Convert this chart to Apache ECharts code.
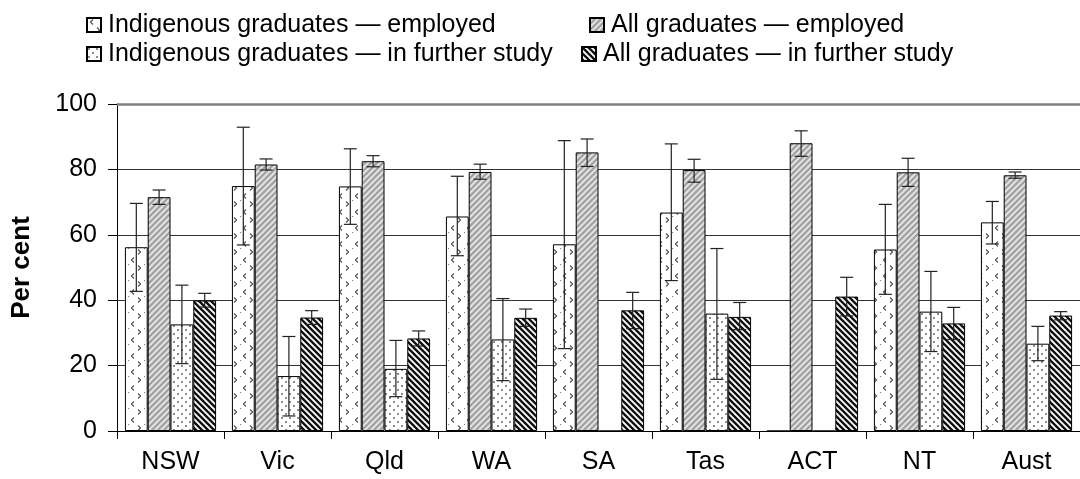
<!DOCTYPE html>
<html>
<head>
<meta charset="utf-8">
<script src="https://cdn.jsdelivr.net/npm/echarts@6/dist/echarts.min.js"></script>
<style>
html,body{margin:0;padding:0;background:#fff;}
#chart{width:1080px;height:479px;}
</style>
</head>
<body>
<div id="chart"></div>
<script>
const categories = ['NSW','Vic','Qld','WA','SA','Tas','ACT','NT','Aust'];
const seriesNames = [
  'Indigenous graduates \u2014 employed',
  'All graduates \u2014 employed',
  'Indigenous graduates \u2014 in further study',
  'All graduates \u2014 in further study'
];
const indigEmployed   = [56.2, 74.9, 74.8, 65.6, 57.1, 66.8, 0, 55.5, 63.8];
const indigEmployedHi = [69.6, 92.9, 86.3, 77.9, 88.8, 87.8, null, 69.3, 70.2];
const indigEmployedLo = [42.7, 56.9, 63.2, 53.6, 25.2, 46.0, null, 41.8, 57.2];
const allEmployed     = [71.5, 81.5, 82.5, 79.2, 85.2, 79.8, 88.0, 79.1, 78.2];
const allEmployedHi   = [73.7, 83.2, 84.2, 81.6, 89.3, 83.1, 91.8, 83.4, 79.2];
const allEmployedLo   = [69.3, 79.8, 80.8, 77.0, 80.9, 76.1, 84.0, 74.8, 77.3];
const indigStudy      = [32.6, 16.8, 19.0, 28.0, 0, 35.9, 0, 36.5, 26.7];
const indigStudyHi    = [44.6, 28.9, 27.7, 40.5, null, 55.8, null, 48.8, 32.0];
const indigStudyLo    = [20.6, 4.6, 10.5, 15.4, null, 15.8, null, 24.3, 21.5];
const allStudy        = [39.9, 34.7, 28.3, 34.6, 36.9, 34.9, 41.1, 32.9, 35.3];
const allStudyHi      = [42.1, 36.8, 30.6, 37.3, 42.4, 39.3, 47.0, 37.8, 36.5];
const allStudyLo      = [37.9, 32.6, 26.0, 32.0, 31.3, 31.0, 35.2, 28.0, 34.0];
const yTicks = [0, 20, 40, 60, 80, 100];

const FONT = '"Liberation Sans", Arial, sans-serif';

function makeTile(w, h, draw) {
  const c = document.createElement('canvas');
  c.width = w; c.height = h;
  const ctx = c.getContext('2d');
  ctx.fillStyle = '#fff';
  ctx.fillRect(0, 0, w, h);
  draw(ctx, w, h);
  return c;
}
// Indigenous employed: chevrons
const patIE = makeTile(16, 16, (ctx) => {
  ctx.strokeStyle = '#555';
  ctx.lineWidth = 1.2;
  ctx.beginPath();
  ctx.moveTo(6, 1.5); ctx.lineTo(3.5, 4); ctx.lineTo(6, 6.5);
  ctx.moveTo(10, 9.5); ctx.lineTo(12.5, 12); ctx.lineTo(10, 14.5);
  ctx.stroke();
  ctx.fillStyle = '#777';
  ctx.fillRect(0, 8, 1, 1);
});
// Indigenous study: dots
const patIS = makeTile(8, 8, (ctx) => {
  ctx.fillStyle = '#555';
  ctx.beginPath(); ctx.arc(2, 2, 0.9, 0, Math.PI * 2); ctx.fill();
  ctx.beginPath(); ctx.arc(6, 6, 0.9, 0, Math.PI * 2); ctx.fill();
});
// All employed: light grey forward diagonal stripes
const patAE = makeTile(6, 6, (ctx) => {
  ctx.fillStyle = '#e2e2e2';
  ctx.fillRect(0, 0, 6, 6);
  ctx.strokeStyle = '#a0a0a0';
  ctx.lineWidth = 2.2;
  ctx.beginPath();
  ctx.moveTo(-1, 7); ctx.lineTo(7, -1);
  ctx.moveTo(-4, 4); ctx.lineTo(4, -4);
  ctx.moveTo(2, 10); ctx.lineTo(10, 2);
  ctx.stroke();
});
// All study: black back diagonal stripes
const patAS = makeTile(6, 6, (ctx) => {
  ctx.strokeStyle = '#111';
  ctx.lineWidth = 2.4;
  ctx.beginPath();
  ctx.moveTo(-1, -1); ctx.lineTo(7, 7);
  ctx.moveTo(-4, 2); ctx.lineTo(4, 10);
  ctx.moveTo(2, -4); ctx.lineTo(10, 4);
  ctx.stroke();
});

const values = [indigEmployed, allEmployed, indigStudy, allStudy];
const his = [indigEmployedHi, allEmployedHi, indigStudyHi, allStudyHi];
const los = [indigEmployedLo, allEmployedLo, indigStudyLo, allStudyLo];
const pats = [patIE, patAE, patIS, patAS];
const GAP = 0.148;

const barSeries = values.map((vals, i) => ({
  name: seriesNames[i],
  type: 'bar',
  data: vals,
  barGap: '0%',
  barCategoryGap: (GAP * 100) + '%',
  itemStyle: {
    color: { image: pats[i], repeat: 'repeat' },
    borderColor: '#000',
    borderWidth: 1
  },
  emphasis: { disabled: true },
  z: 2
}));

const errSeries = values.map((vals, i) => ({
  name: 'err' + i,
  type: 'custom',
  z: 5,
  silent: true,
  data: categories.map((c, k) => his[i][k] == null ? null : [k, los[i][k], his[i][k]]).filter(d => d),
  encode: { x: 0, y: [1, 2] },
  renderItem: function (params, api) {
    const idx = api.value(0);
    const lo = api.coord([idx, api.value(1)]);
    const hi = api.coord([idx, api.value(2)]);
    const band = api.size([1, 0])[0];
    const bw = band * (1 - GAP) / 4;
    const x = lo[0] + (i - 1.5) * bw;
    const cap = 6.5;
    const style = { stroke: '#222', lineWidth: 1.2, fill: null };
    return {
      type: 'group',
      children: [
        { type: 'line', shape: { x1: x, y1: lo[1], x2: x, y2: hi[1] }, style: style },
        { type: 'line', shape: { x1: x - cap, y1: hi[1], x2: x + cap, y2: hi[1] }, style: style },
        { type: 'line', shape: { x1: x - cap, y1: lo[1], x2: x + cap, y2: lo[1] }, style: style }
      ]
    };
  }
}));

const legendPos = [
  { left: 86, top: 11 },
  { left: 589, top: 11 },
  { left: 86, top: 40 },
  { left: 581, top: 40 }
];

const option = {
  animation: false,
  backgroundColor: '#fff',
  textStyle: { fontFamily: FONT },
  legend: legendPos.map((p, i) => ({
    data: [seriesNames[i]],
    left: p.left,
    top: p.top,
    icon: 'rect',
    itemWidth: 14,
    itemHeight: 14,
    padding: 0,
    selectedMode: false,
    textStyle: { fontSize: 25, lineHeight: 28, color: '#000', fontFamily: FONT, padding: [0, 0, 0, 2] }
  })),
  grid: { left: 117, right: -9, top: 104, bottom: 48, containLabel: false },
  xAxis: {
    type: 'category',
    data: categories,
    axisLine: { show: true, lineStyle: { color: '#000', width: 1 } },
    axisTick: { show: true, interval: 0, length: 8, lineStyle: { color: '#000' } },
    axisLabel: { fontSize: 25, color: '#000', margin: 19, fontFamily: FONT, interval: 0 },
    splitLine: { show: false }
  },
  yAxis: {
    type: 'value',
    min: 0,
    max: 100,
    interval: 20,
    name: 'Per cent',
    nameLocation: 'middle',
    nameGap: 82,
    nameRotate: 90,
    nameTextStyle: { fontSize: 26, fontWeight: 'bold', color: '#000', fontFamily: FONT },
    axisLine: { show: true, lineStyle: { color: '#000', width: 1 } },
    axisTick: { show: true, length: 9, inside: false, lineStyle: { color: '#000' } },
    axisLabel: {
      fontSize: 25, color: '#000', margin: 20, fontFamily: FONT,
      formatter: function (v) { return yTicks.indexOf(v) >= 0 ? String(v) : ''; }
    },
    splitLine: { show: true, lineStyle: { color: ['#000', '#333', '#333', '#333', '#333', '#808080'], width: 1 } }
  },
  series: barSeries.concat(errSeries).concat([{
    name: 'top',
    type: 'line',
    data: [],
    silent: true,
    markLine: {
      symbol: 'none',
      silent: true,
      label: { show: false },
      lineStyle: { color: '#808080', width: 2.5, type: 'solid' },
      data: [{ yAxis: 100 }]
    }
  }])
};

const chart = echarts.init(document.getElementById('chart'), null, { renderer: 'canvas' });
chart.setOption(option);
</script>
</body>
</html>
